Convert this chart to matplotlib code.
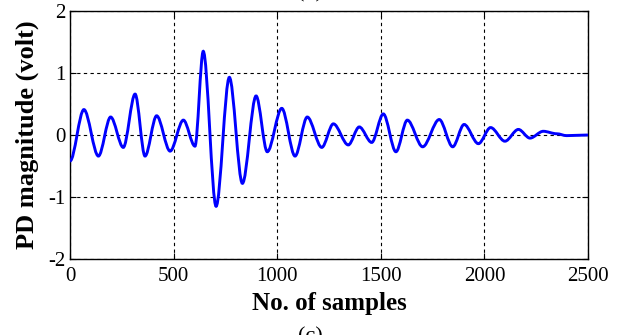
import matplotlib
matplotlib.use("Agg")
import matplotlib.pyplot as plt
from matplotlib.path import Path
from matplotlib.patches import PathPatch

plt.rcParams["font.family"] = ["Liberation Serif", "DejaVu Serif"]
plt.rcParams["axes.unicode_minus"] = False

# extrema of the PD pulse (sample no., volt)
samples = [0, 67, 137, 196, 257, 314, 362, 418, 483, 547, 603, 643, 705, 769,
           832, 898, 952, 1022, 1086, 1145, 1215, 1271, 1343, 1396, 1456, 1512,
           1573, 1628, 1702, 1782, 1847, 1902, 1971, 2030, 2099, 2164, 2220,
           2284, 2349, 2397, 2500]
volts = [-0.42, 0.41, -0.34, 0.29, -0.20, 0.66, -0.34, 0.31, -0.26, 0.24,
         -0.18, 1.35, -1.15, 0.93, -0.78, 0.63, -0.27, 0.43, -0.34, 0.29,
         -0.20, 0.18, -0.16, 0.13, -0.12, 0.34, -0.27, 0.24, -0.19, 0.25,
         -0.19, 0.17, -0.14, 0.12, -0.10, 0.09, -0.05, 0.06, 0.02, -0.01, 0.0]

xticks = [0, 500, 1000, 1500, 2000, 2500]
yticks = [-2, -1, 0, 1, 2]

fig = plt.figure(figsize=(6.17, 3.35), dpi=100)
ax = fig.add_axes([0.1135, 0.227, 0.8395, 0.740])

# smooth curve through the extrema: cubic Bezier, flat tangent at each extremum
verts = [(samples[0], volts[0])]
codes = [Path.MOVETO]
for i in range(1, len(samples)):
    x0, y0 = samples[i - 1], volts[i - 1]
    x1, y1 = samples[i], volts[i]
    d = (x1 - x0) / 3
    verts += [(x0 + d, y0), (x1 - d, y1), (x1, y1)]
    codes += [Path.CURVE4] * 3
ax.add_patch(PathPatch(Path(verts, codes), facecolor="none",
                       edgecolor="#0000ff", lw=2.1, zorder=3))

ax.set_xlim(0, 2500)
ax.set_ylim(-2, 2)
ax.set_xticks(xticks)
ax.set_yticks(yticks)
ax.grid(True, color="black", linestyle=(0, (3, 3)), linewidth=0.8)
ax.tick_params(direction="in", top=True, right=True, length=4, labelsize=15)
ax.tick_params(axis="x", pad=6)
ax.tick_params(axis="y", pad=3)
for s in ax.spines.values():
    s.set_linewidth(1.0)

ax.set_xlabel("No. of samples", fontsize=18, fontweight="bold", labelpad=4)
ax.set_ylabel("PD magnitude (volt)", fontsize=19, fontweight="bold", labelpad=7)

fig.text(0.503, 1.02, "(b)", ha="center", va="center", fontsize=16)
fig.text(0.503, -0.005, "(c)", ha="center", va="center", fontsize=16)

fig.savefig("out.png", dpi=100)
